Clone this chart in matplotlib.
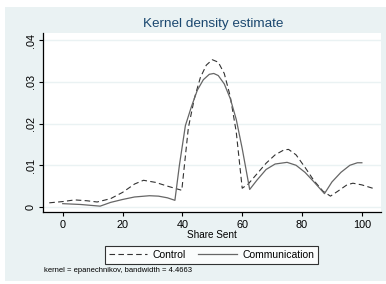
import matplotlib
matplotlib.use('Agg')
import matplotlib.pyplot as plt
from matplotlib.patches import Rectangle
from matplotlib.ticker import FuncFormatter

plt.rcParams['font.family'] = ['Liberation Sans', 'DejaVu Sans']

# kernel density, control group
ctrl_x = [-4.5, 0, 4, 8, 11.5, 16, 20, 24, 27, 31, 35, 39.8,
          42, 44, 46, 48, 50, 52, 54, 56, 58, 60,
          62, 65, 68, 71, 74, 75.5, 78, 81, 84, 87, 89.5,
          92, 95, 97, 100, 104.5]
ctrl_y = [0.0010, 0.0013, 0.0017, 0.0015, 0.0012, 0.0020, 0.0035, 0.0055, 0.0064, 0.0059, 0.0050, 0.0040,
          0.0190, 0.0260, 0.0310, 0.0340, 0.0353, 0.0347, 0.0320, 0.0265, 0.0180, 0.0045,
          0.0055, 0.0080, 0.0105, 0.0125, 0.0137, 0.0138, 0.0125, 0.0095, 0.0063, 0.0038, 0.0026,
          0.0038, 0.0053, 0.0057, 0.0053, 0.0043]

# kernel density, communication group
comm_x = [0, 6, 12.5, 16, 20, 24, 29, 32, 35, 37.5,
          39, 41, 43, 45, 47, 49, 50.5, 52, 54, 56, 58, 60, 62.5,
          65, 68, 71, 75, 78, 81, 84, 87.5,
          90, 93, 96, 98.5, 100]
comm_y = [0.0008, 0.0006, 0.0002, 0.0011, 0.0018, 0.0024, 0.0027, 0.0026, 0.0022, 0.0016,
          0.0100, 0.0195, 0.0240, 0.0280, 0.0305, 0.0318, 0.0320, 0.0315, 0.0295, 0.0260, 0.0210, 0.0140, 0.0042,
          0.0065, 0.0090, 0.0103, 0.0107, 0.0100, 0.0083, 0.0060, 0.0032,
          0.0060, 0.0083, 0.0100, 0.0106, 0.0106]

xticks = [0, 20, 40, 60, 80, 100]
yticks = [0, 0.01, 0.02, 0.03, 0.04]

W, H = 386, 284
bg = '#eaf2f3'
navy = '#1a476f'

fig = plt.figure(figsize=(W / 100, H / 100), dpi=100, facecolor='white')
fig.patches.append(Rectangle((5 / W, 1 - 281 / H), 381 / W, 274 / H,
                             transform=fig.transFigure, facecolor=bg,
                             edgecolor='none', zorder=-10))

ax = fig.add_axes([43 / W, 1 - 212 / H, 338 / W, 179 / H])
ax.set_facecolor('white')

ax.plot(ctrl_x, ctrl_y, color='#333333', lw=0.8, ls=(0, (5, 3)), label='Control')
ax.plot(comm_x, comm_y, color='#666666', lw=0.9, ls='-', label='Communication')

ax.set_xlim(-6.6, 106.4)
ax.set_ylim(-0.0012, 0.0417)
ax.set_xticks(xticks)
ax.set_yticks(yticks)
ax.yaxis.set_major_formatter(FuncFormatter(lambda v, p: '0' if v == 0 else ('%.2f' % v).lstrip('0')))
ax.grid(axis='y', color=bg, lw=1.0)
ax.set_axisbelow(True)

for s in ['top', 'right']:
    ax.spines[s].set_visible(False)
for s in ['left', 'bottom']:
    ax.spines[s].set_color('black')
    ax.spines[s].set_linewidth(0.9)

ax.tick_params(axis='both', length=3, width=0.8, labelsize=7.8, colors='black')
ax.tick_params(axis='y', pad=2)
ax.tick_params(axis='x', pad=3)
plt.setp(ax.get_yticklabels(), rotation=90, va='center')

ax.set_xlabel('Share Sent', fontsize=7.2, labelpad=0)
fig.text(212.7 / W, 1 - 24 / H, 'Kernel density estimate', ha='center', va='center',
         fontsize=9.7, color=navy)

leg = fig.legend(loc='center', bbox_to_anchor=(211.5 / W, 1 - 255 / H), ncol=2,
                 fontsize=7.5, frameon=True, fancybox=False, handlelength=3.7,
                 columnspacing=1.2, borderpad=0.35, handletextpad=0.5)
leg.get_frame().set_edgecolor('black')
leg.get_frame().set_linewidth(0.8)

fig.text(44 / W, 1 - 270 / H, 'kernel = epanechnikov, bandwidth = 4.4663',
         fontsize=5.5, va='center', ha='left')

fig.savefig('out.png', dpi=100, facecolor='white')
